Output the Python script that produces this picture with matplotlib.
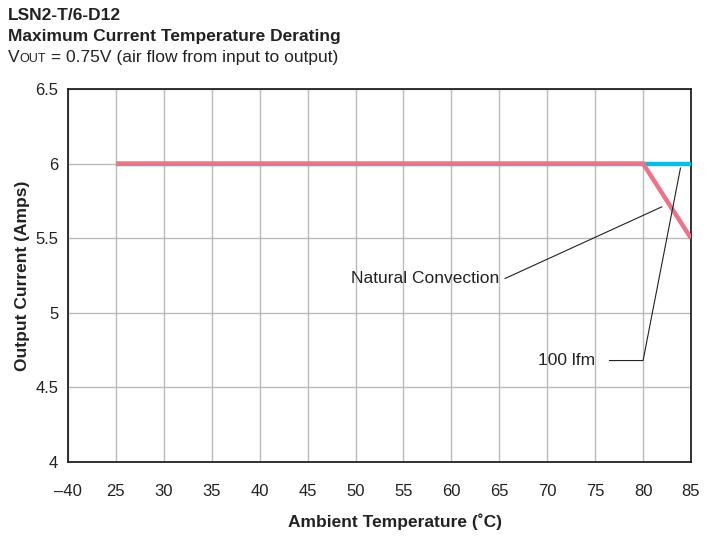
import matplotlib
matplotlib.use("Agg")
import matplotlib.pyplot as plt

plt.rcParams['font.family'] = ['Liberation Sans', 'DejaVu Sans']

# tick labels on the x axis (axis is broken between -40 and 25)
x_labels = [-40, 25, 30, 35, 40, 45, 50, 55, 60, 65, 70, 75, 80, 85]
y_ticks = [4, 4.5, 5, 5.5, 6, 6.5]

# series
temp_natural = [25, 80, 85]
amps_natural = [6.0, 6.0, 5.5]
temp_100lfm = [25, 80, 85]
amps_100lfm = [6.0, 6.0, 6.0]


def pos(t):
    # position on the equally spaced category axis
    if t < 25:
        return 0
    return 1 + (t - 25) / 5.0


fig = plt.figure(figsize=(7.14, 5.58), dpi=100)
ax = fig.add_axes([68 / 714, 96 / 558, 623 / 714, 373 / 558])

ax.plot([pos(t) for t in temp_100lfm], amps_100lfm, color='#00BFEE', lw=3.2,
        solid_capstyle='butt', zorder=3)
ax.plot([pos(t) for t in temp_natural], amps_natural, color='#F07385', lw=3.2,
        solid_capstyle='butt', solid_joinstyle='miter', zorder=4)

ax.set_xlim(0, 13)
ax.set_ylim(4, 6.5)
ax.set_xticks(range(len(x_labels)))
ax.set_xticklabels(['\u2013' + str(-v) if v < 0 else str(v) for v in x_labels])
ax.set_yticks(y_ticks)
ax.set_yticklabels(['4', '4.5', '5', '5.5', '6', '6.5'])
ax.tick_params(axis='both', length=0, labelsize=12, colors='#222222')
ax.tick_params(axis='x', pad=16)
ax.tick_params(axis='y', pad=7)
ax.grid(True, color='#BBBBBB', lw=1)
for s in ax.spines.values():
    s.set_color('#222222')
    s.set_linewidth(1.3)

ax.set_xlabel('Ambient Temperature (\u02daC)', fontsize=12.5, fontweight='bold',
              labelpad=10, color='#222222')
ax.xaxis.label.set_x(0.525)
ax.set_ylabel('Output Current (Amps)', fontsize=12.5, fontweight='bold',
              labelpad=4, color='#222222')

# callouts
ax.text(9.0, 5.23, 'Natural Convection', ha='right', va='center', fontsize=12.5,
        color='#222222', zorder=5)
ax.plot([9.12, 12.39], [5.23, 5.71], color='#222222', lw=0.8, zorder=5)
ax.text(11.0, 4.68, '100 lfm', ha='right', va='center', fontsize=12.5,
        color='#222222', zorder=5)
ax.plot([11.3, 12.0, 12.78], [4.68, 4.68, 5.97], color='#222222', lw=0.8, zorder=5)

# header text
fig.text(8 / 714, 1 - 16 / 558, 'LSN2-T/6-D12', fontsize=12.5, fontweight='bold',
         va='center', color='#222222')
fig.text(8 / 714, 1 - 37 / 558, 'Maximum Current Temperature Derating', fontsize=12.5,
         fontweight='bold', va='center', color='#222222')
renderer = fig.canvas.get_renderer()
yb = 1 - 62 / 558
t1 = fig.text(8 / 714, yb, 'V', fontsize=12.5, va='baseline', color='#222222')
x1 = t1.get_window_extent(renderer).x1 / 714
t2 = fig.text(x1, yb, 'OUT', fontsize=9, va='baseline', color='#222222')
x2 = t2.get_window_extent(renderer).x1 / 714
fig.text(x2, yb, ' = 0.75V (air flow from input to output)', fontsize=12.5,
         va='baseline', color='#222222')

fig.savefig('out.png', dpi=100)
